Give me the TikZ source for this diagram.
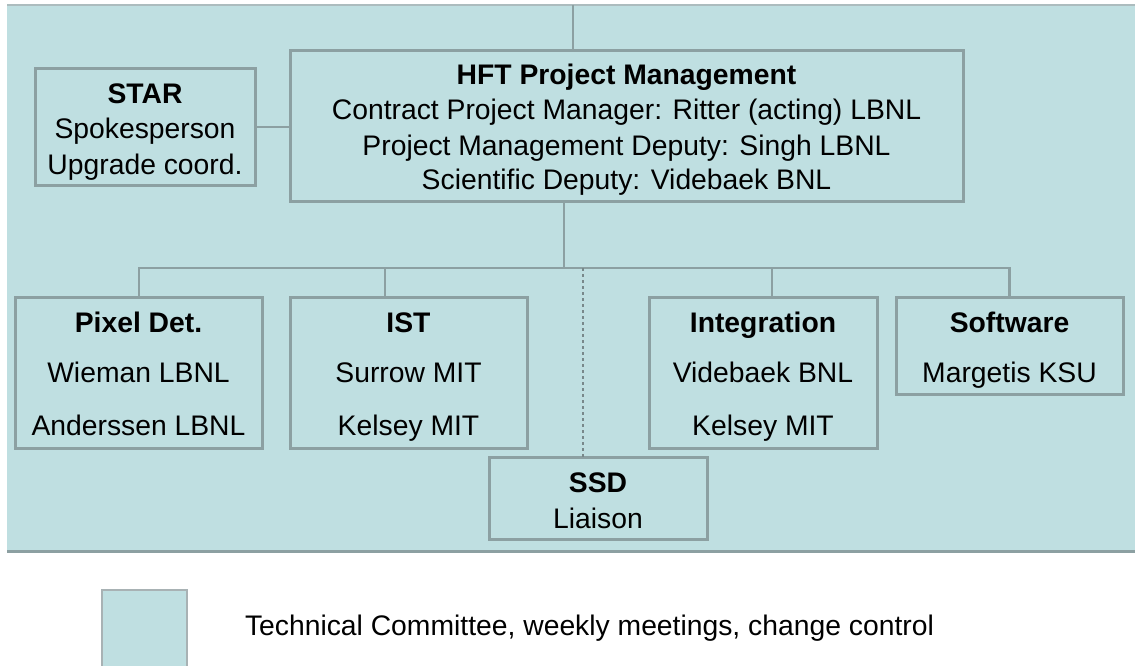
\documentclass[tikz,border=0pt]{standalone}
\usepackage{fontspec}
\setmainfont{Liberation Sans}
\definecolor{panelfill}{RGB}{191,223,225}
\definecolor{boxline}{RGB}{140,160,162}
\definecolor{dotline}{RGB}{120,136,138}
\definecolor{topline}{RGB}{172,188,190}
\definecolor{legline}{RGB}{168,178,180}
\tikzset{
  box/.style={draw=boxline, line width=3pt, rectangle, inner sep=0pt, outer sep=0pt},
  txt/.style={anchor=base, inner sep=0pt, outer sep=0pt, font=\fontsize{28.3pt}{34pt}\selectfont},
  ttl/.style={txt, font=\fontsize{28.3pt}{34pt}\selectfont\bfseries},
  conn/.style={draw=boxline, line width=2.5pt},
  dotconn/.style={draw=dotline, line width=2.5pt, dash pattern=on 3pt off 3pt},
}
\begin{document}
\begin{tikzpicture}[x=1pt, y=-1pt]
\useasboundingbox (0,0) rectangle (1135,666);
\fill[white] (0,0) rectangle (1135,666);
% panel
\fill[panelfill] (7,5) rectangle (1135,552);
\draw[topline, line width=1.5pt] (7,5) -- (1135,5);
\draw[boxline, line width=3pt] (7,551) -- (1135,551);

% boxes
\node[box, minimum width=220pt, minimum height=116pt] (star) at (145,127) {};
\node[box, minimum width=673pt, minimum height=150pt] (hft) at (626.5,126) {};
\node[box, minimum width=247pt, minimum height=151pt] (pix) at (138.5,372.5) {};
\node[box, minimum width=237pt, minimum height=151pt] (ist) at (408.5,372.5) {};
\node[box, minimum width=228pt, minimum height=151pt] (integ) at (763,372.5) {};
\node[box, minimum width=227pt, minimum height=97pt] (soft) at (1009.5,345.5) {};
\node[box, minimum width=218pt, minimum height=82pt] (ssd) at (598,498) {};

% texts
\node[ttl] (starA) at (145,104) {STAR};
\node[txt] (starB) at (145,139) {Spokesperson};
\node[txt] (starC) at (145,175) {Upgrade coord.};

\node[ttl] (hftA) at (626.5,85) {HFT Project Management};
\node[txt] (hftB) at (626.5,120) {Contract Project Manager: Ritter (acting) LBNL};
\node[txt] (hftC) at (626.5,155) {Project Management Deputy: Singh LBNL};
\node[txt] (hftD) at (626.5,189) {Scientific Deputy: Videbaek BNL};

\node[ttl] (pixA) at (138.5,332) {Pixel Det.};
\node[txt] (pixB) at (138.5,382) {Wieman LBNL};
\node[txt] (pixC) at (138.5,435) {Anderssen LBNL};

\node[ttl] (istA) at (408.5,332) {IST};
\node[txt] (istB) at (408.5,382) {Surrow MIT};
\node[txt] (istC) at (408.5,435) {Kelsey MIT};

\node[ttl] (intA) at (763,332) {Integration};
\node[txt] (intB) at (763,382) {Videbaek BNL};
\node[txt] (intC) at (763,435) {Kelsey MIT};

\node[ttl] (softA) at (1009.5,332) {Software};
\node[txt] (softB) at (1009.5,382) {Margetis KSU};

\node[ttl] (ssdA) at (598,492) {SSD};
\node[txt] (ssdB) at (598,528) {Liaison};

% connectors
\coordinate (topc) at (573,5);
\draw[conn] (topc) -- (topc |- hft.north);
\draw[conn] (star.east) -- (star.east -| hft.west);
\coordinate (busc) at (564,268);
\draw[conn] (busc |- hft.south) -- (busc);
\coordinate (bL) at (139,268);
\coordinate (bI) at (385,268);
\coordinate (bS) at (583,268);
\coordinate (bG) at (772,268);
\coordinate (bR) at (1009.5,268);
\draw[conn] (bL |- pix.north) -- (bL) -- (bR) -- (bR |- soft.north);
\draw[conn] (bI) -- (bI |- ist.north);
\draw[conn] (bG) -- (bG |- integ.north);
\draw[dotconn] (bS) -- (bS |- ssd.north);

% legend
\node[draw=legline, fill=panelfill, line width=2.5pt, inner sep=0pt, minimum width=85pt, minimum height=84pt] (leg) at (144.5,632) {};
\node[txt, anchor=base west] (legT) at (245,635) {Technical Committee, weekly meetings, change control};
\end{tikzpicture}
\end{document}
